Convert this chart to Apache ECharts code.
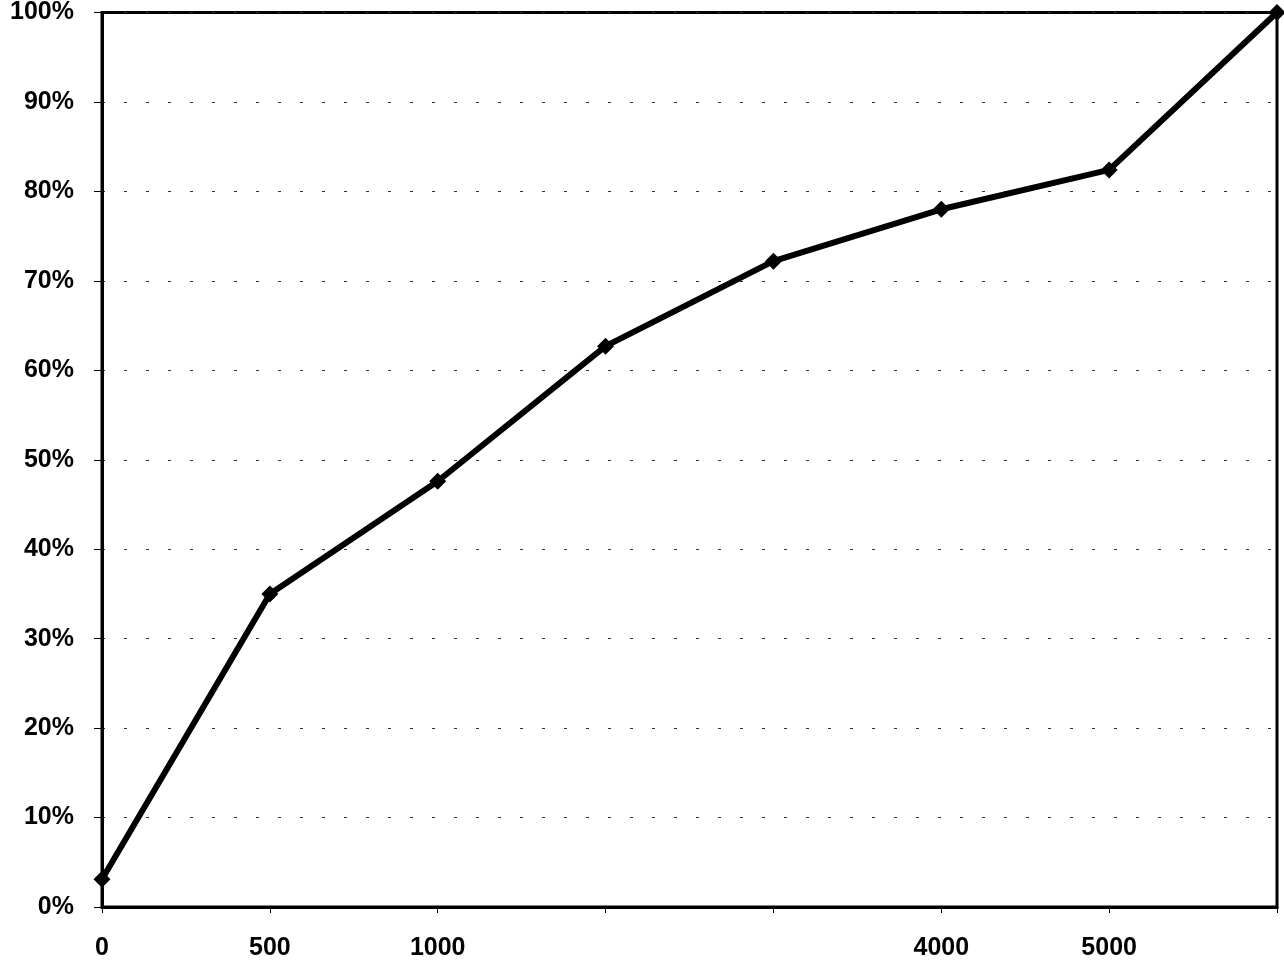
<!DOCTYPE html>
<html>
<head>
<meta charset="utf-8">
<script src="https://cdn.jsdelivr.net/npm/echarts@6/dist/echarts.min.js"></script>
<style>
html,body{margin:0;padding:0;background:#fff;}
#chart{width:1284px;height:962px;}
</style>
</head>
<body>
<div id="chart"></div>
<script>
var categories = ['0', '500', '1000', '', '', '4000', '5000', ''];
var values = [3.1, 35.0, 47.6, 62.7, 72.2, 78.0, 82.4, 100];
var yTicks = [0, 10, 20, 30, 40, 50, 60, 70, 80, 90, 100];

var chart = echarts.init(document.getElementById('chart'));
chart.setOption({
  animation: false,
  backgroundColor: '#fff',
  grid: {
    left: 102, right: 7, top: 12, bottom: 55,
    show: true, borderColor: '#000', borderWidth: 3, backgroundColor: 'transparent'
  },
  xAxis: {
    type: 'category',
    data: categories,
    boundaryGap: false,
    axisLine: { lineStyle: { color: '#000', width: 3 } },
    axisTick: { show: true, alignWithLabel: true, length: 6, lineStyle: { color: '#000', width: 1 } },
    axisLabel: { color: '#000', fontFamily: 'Liberation Sans, Arial, sans-serif', fontSize: 25, fontWeight: 'bold', margin: 29, interval: 0 },
    splitLine: { show: false }
  },
  yAxis: {
    type: 'value',
    min: 0, max: 100, interval: 10,
    axisLine: { show: true, lineStyle: { color: '#000', width: 3 } },
    axisTick: { show: true, length: 8, lineStyle: { color: '#000', width: 1 } },
    axisLabel: {
      color: '#000', fontFamily: 'Liberation Sans, Arial, sans-serif', fontSize: 25, fontWeight: 'bold', margin: 28,
      formatter: function (v) { return yTicks.indexOf(v) >= 0 ? v + '%' : ''; }
    },
    splitLine: { show: true, lineStyle: { color: '#333', width: 1, type: [3, 19] } }
  },
  series: [{
    type: 'line',
    data: values,
    symbol: 'diamond',
    symbolSize: 17,
    lineStyle: { color: '#000', width: 6 },
    itemStyle: { color: '#000' },
    z: 5
  }]
});
</script>
</body>
</html>
